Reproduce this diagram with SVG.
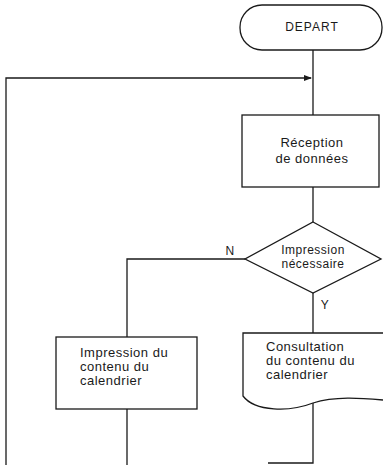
<svg xmlns="http://www.w3.org/2000/svg" width="383" height="465" viewBox="0 0 383 465">
  <style>
    .shape { fill: #fff; stroke: #1a1a1a; stroke-width: 1.3; }
    .line { fill: none; stroke: #1a1a1a; stroke-width: 1.3; }
    text { font-family: "Liberation Sans", Arial, sans-serif; font-size: 13px; fill: #1a1a1a; letter-spacing: 0.5px; }
    .c { text-anchor: middle; }
    .lbl { font-size: 12px; }
  </style>
  <defs>
    <marker id="arrow" markerWidth="8" markerHeight="6" refX="7" refY="3" orient="auto" markerUnits="userSpaceOnUse">
      <path d="M0,0 L8,3 L0,6 Z" fill="#1a1a1a"/>
    </marker>
  </defs>

  <!-- connectors -->
  <g id="connectors">
    <line class="line" x1="313" y1="50" x2="313" y2="115"/>
    <!-- return loop -->
    <polyline class="line" points="6,465 6,78 311,78" marker-end="url(#arrow)"/>
    <line class="line" x1="313" y1="187" x2="313" y2="222"/>
    <!-- N branch -->
    <polyline class="line" points="245,259 127,259 127,337"/>
    <text class="lbl" x="230" y="255" text-anchor="middle">N</text>
    <!-- Y branch -->
    <line class="line" x1="313" y1="293" x2="313" y2="333"/>
    <text class="lbl" x="325" y="309" text-anchor="middle">Y</text>
    <line class="line" x1="127" y1="409" x2="127" y2="465"/>
    <polyline class="line" points="313,403 313,463 268,463"/>
  </g>

  <g id="depart">
    <rect class="shape" x="240" y="5" width="142" height="45" rx="22" ry="22"/>
    <text class="c" x="312" y="31" style="font-size:12px;letter-spacing:1px">DEPART</text>
  </g>

  <g id="reception">
    <rect class="shape" x="242" y="115" width="137" height="72"/>
    <text class="c" x="312" y="147">Réception</text>
    <text class="c" x="312" y="163">de données</text>
  </g>

  <g id="decision">
    <polygon class="shape" points="313,222 381,259 313,293 245,259"/>
    <text class="c" x="313" y="254" style="font-size:12px">Impression</text>
    <text class="c" x="313" y="268" style="font-size:12px">nécessaire</text>
  </g>

  <g id="impression">
    <rect class="shape" x="56" y="337" width="141" height="72"/>
    <text x="80" y="357">Impression du</text>
    <text x="80" y="371">contenu du</text>
    <text x="80" y="385">calendrier</text>
  </g>

  <g id="consultation">
    <path class="shape" d="M383,333 L243,333 L243,396 C255,412 290,412 313,403 C335,396 360,398 383,400"/>
    <text x="266" y="351">Consultation</text>
    <text x="266" y="365">du contenu du</text>
    <text x="266" y="379">calendrier</text>
  </g>
</svg>
